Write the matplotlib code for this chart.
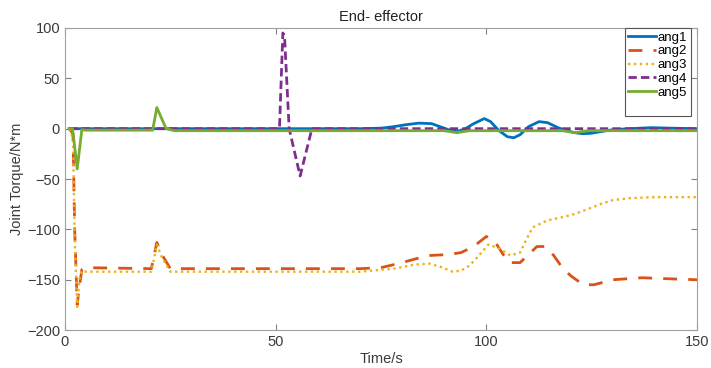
import matplotlib
matplotlib.use("Agg")
import matplotlib.pyplot as plt
from matplotlib.lines import Line2D

plt.rcParams['font.family'] = ['Liberation Sans', 'DejaVu Sans']

# ---- data ----
t1 = [1, 70, 75, 78, 81, 84, 87, 89, 91, 93, 95, 97, 99.5, 101, 103, 105, 106.5, 108, 110,
      112.5, 114.5, 117, 119, 121, 123, 125, 127, 130, 134, 139, 144, 150]
ang1 = [0, 0, 0.5, 2, 4, 5.5, 5, 2, -1, -3, 0, 5, 10, 7, -2, -8, -9, -6, 2,
        7, 6, 1, -2, -4, -5, -4.5, -3, -1, 0, 1, 0.5, 0]

t2 = [1, 1.9, 2.3, 2.9, 3.3, 4, 5, 20.5, 21.8, 23, 25, 70, 75, 80, 86, 91, 94, 97, 100, 102,
      104, 105.5, 108, 110, 112, 114, 116, 118, 120, 123, 125.5, 130, 137, 143, 150]
ang2 = [0, -5, -100, -175, -160, -140, -138, -139, -113, -125, -139, -139, -138, -133, -126,
        -125, -123, -117, -107, -112, -125, -133, -133, -125, -117, -117, -126, -138, -146,
        -155, -155, -150, -148, -149, -150]

t3 = [1, 1.9, 2.3, 2.9, 3.4, 4, 5, 20.5, 21.8, 23, 25, 70, 78, 83, 86.5, 89, 92, 94, 96, 98,
      100.5, 103, 105.7, 108, 109.5, 111, 114.5, 118, 120.7, 124, 127, 130, 134, 140, 150]
ang3 = [0, -10, -110, -177, -150, -141, -142, -142, -115, -128, -142, -142, -139, -135, -134,
        -137, -142, -141, -136, -127, -115, -119, -126, -123, -110, -98, -91, -88, -85, -80,
        -75, -71, -69, -68, -68]

t4 = [1, 50.9, 51.7, 52.1, 53.2, 55.8, 58.6, 150]
ang4 = [0, 0, 95, 92, 0, -47, 0, 0]

t5 = [1, 1.8, 2.9, 4, 5, 20.8, 21.8, 24, 26, 90, 93, 96, 118, 121, 124, 150]
ang5 = [0, 0, -40, -1, -1.5, -1.5, 21, 0, -2, -2, -4, -2, -2, -4, -2, -2]

labels = ['ang1', 'ang2', 'ang3', 'ang4', 'ang5']
xticks = [0, 50, 100, 150]
yticks = [-200, -150, -100, -50, 0, 50, 100]

# ---- figure ----
fig = plt.figure(figsize=(7.11, 3.68), dpi=100)
ax = fig.add_axes([0.0914, 0.103, 0.889, 0.821])

h1, = ax.plot(t1, ang1, color='#0072BD', lw=2.0, ls='-', label=labels[0])
h2, = ax.plot(t2, ang2, color='#D95319', lw=2.0, ls=(0, (5, 4)), label=labels[1])
h3, = ax.plot(t3, ang3, color='#EDB120', lw=1.7, ls=(0, (1, 1.5)), label=labels[2])
h4, = ax.plot(t4, ang4, color='#7E2F8E', lw=2.0, ls=(0, (3, 1.5)), label=labels[3])
h5, = ax.plot(t5, ang5, color='#77AC30', lw=2.0, ls='-', label=labels[4])

ax.set_xlim(0, 150)
ax.set_ylim(-200, 100)
ax.set_xticks(xticks)
ax.set_yticks(yticks)

for s in ax.spines.values():
    s.set_color('#a0a0a0')
    s.set_linewidth(0.8)
ax.tick_params(direction='in', top=True, right=True, length=4, width=0.8,
               color='#808080', labelcolor='#3a3a3a', labelsize=10.5)

ax.set_title('End- effector', fontsize=10.5, color='#222222', pad=5)
ax.set_xlabel('Time/s', fontsize=10.5, color='#3a3a3a', labelpad=2)
ax.set_ylabel('Joint Torque/N*m', fontsize=10.5, color='#3a3a3a', labelpad=2)

blank = Line2D([], [], color='none')
leg = ax.legend([h1, h2, h3, h4, h5, blank], labels + [' '],
                loc='upper right', bbox_to_anchor=(0.99, 1.0), borderaxespad=0,
                fontsize=9.5, handlelength=2.1, handletextpad=0.15, labelspacing=0.12,
                fancybox=False, framealpha=1, borderpad=0.25)
leg.get_frame().set_edgecolor('#555555')
leg.get_frame().set_linewidth(0.8)

fig.savefig('out.png', dpi=100)
